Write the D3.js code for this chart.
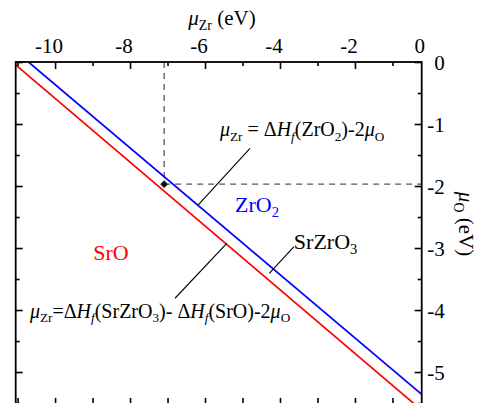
<!DOCTYPE html>
<html>
<head>
<meta charset="utf-8">
<script src="https://cdn.jsdelivr.net/npm/d3@7"></script>
<style>
  html, body { margin: 0; padding: 0; background: #fff; }
  svg, svg text { font-family: "Liberation Serif", "Times New Roman", serif; }
  svg { display: block; }
</style>
</head>
<body>
<svg id="chart" width="478" height="403"></svg>
<script>
// Axis ranges and ticks (eV)
const muZrDomain = [-11.05, -0.22];
const muODomain = [0, -5.53];
const muZrMajorTicks = [-10, -8, -6, -4, -2];
const muZrMinorTicks = [-11, -9, -7, -5, -3, -1];
const muZrEndLabel = [0];
const muOMajorTicks = [0, -1, -2, -3, -4, -5];
const muOMinorTicks = [-0.5, -1.5, -2.5, -3.5, -4.5, -5.5];

// Phase boundaries: [μZr, μO] end points
const zro2Boundary = [[-10.71, 0], [-0.22, -5.36]];
const sroBoundary = [[-11.05, -0.048], [-0.387, -5.53]];

// Marked point and its projections onto the axes
const markedPoint = [-7.09, -1.97];

// Leader lines from labels to boundaries: [[μZr, μO], [μZr, μO]]
const leaderZrO2 = [[-4.80, -1.392], [-6.18, -2.306]];
const leaderSrZrO3 = [[-3.627, -2.979], [-4.286, -3.408]];
const leaderSrO = [[-6.80, -3.81], [-5.42, -2.924]];

// Label anchors [μZr, μO]
const posSrO = [-8.51, -3.19];
const posZrO2 = [-5.20, -2.42];
const posSrZrO3 = [-3.63, -3.02];
const posFormulaZrO2 = [-5.60, -1.20];
const posFormulaSrO = [-10.67, -4.13];

const FONT = "'Liberation Serif', 'Times New Roman', serif";
const svg = d3.select("#chart");
const plotL = 15.7, plotR = 421.7, plotT = 62, plotB = 404.9;

const x = d3.scaleLinear().domain(muZrDomain).range([plotL, plotR]);
const y = d3.scaleLinear().domain(muODomain).range([plotT, plotB]);

const defs = svg.append("defs");
defs.append("clipPath").attr("id", "plotClip")
  .append("rect").attr("x", plotL).attr("y", plotT)
  .attr("width", plotR - plotL).attr("height", plotB - plotT);

const plot = svg.append("g").attr("clip-path", "url(#plotClip)");

// Dashed guides through the marked point
const dash = plot.append("g").attr("stroke", "#555").attr("stroke-width", 1.3)
  .attr("stroke-dasharray", "6,5").attr("fill", "none");
dash.append("line")
  .attr("x1", x(markedPoint[0])).attr("y1", y(0))
  .attr("x2", x(markedPoint[0])).attr("y2", y(markedPoint[1]));
dash.append("line")
  .attr("x1", x(markedPoint[0])).attr("y1", y(markedPoint[1]))
  .attr("x2", x(muZrDomain[1])).attr("y2", y(markedPoint[1]));

// Boundaries
const line = d3.line().x(d => x(d[0])).y(d => y(d[1]));
plot.append("path").datum(sroBoundary)
  .attr("d", line).attr("fill", "none").attr("stroke", "#ff0000").attr("stroke-width", 1.7);
plot.append("path").datum(zro2Boundary)
  .attr("d", line).attr("fill", "none").attr("stroke", "#0000ff").attr("stroke-width", 1.7);

// Leader lines
[leaderZrO2, leaderSrZrO3, leaderSrO].forEach(seg => {
  plot.append("path").datum(seg).attr("d", line)
    .attr("fill", "none").attr("stroke", "#000").attr("stroke-width", 1.1);
});

// Marked point
plot.append("path")
  .attr("d", d3.symbol().type(d3.symbolSquare).size(30)())
  .attr("transform", `translate(${x(markedPoint[0])},${y(markedPoint[1])}) rotate(45)`)
  .attr("fill", "#111");

// Frame
svg.append("rect").attr("x", plotL).attr("y", plotT)
  .attr("width", plotR - plotL).attr("height", plotB - plotT)
  .attr("fill", "none").attr("stroke", "#000").attr("stroke-width", 1.8);

function styleAxis(g) {
  g.attr("font-family", null).style("font-family", FONT);
  g.select(".domain").remove();
  g.selectAll(".tick line").attr("stroke", "#000").attr("stroke-width", 1.6);
  g.selectAll(".tick text").attr("font-size", 21).attr("fill", "#000")
    .style("font-family", FONT);
}

// Top axis (μZr), ticks point inward
const topMajor = svg.append("g").attr("transform", `translate(0,${plotT})`)
  .call(d3.axisTop(x).tickValues(muZrMajorTicks).tickSizeInner(-7).tickSizeOuter(0)
    .tickPadding(9).tickFormat(d => String(d).replace("−", "-")));
styleAxis(topMajor);
topMajor.selectAll(".tick text").attr("dx", -6.5);
svg.append("g").attr("transform", `translate(0,${plotT})`)
  .call(d3.axisTop(x).tickValues(muZrMinorTicks).tickSizeInner(-4).tickSizeOuter(0).tickFormat(""))
  .call(styleAxis);
// end label at the right edge of the range
svg.append("g").selectAll("text").data(muZrEndLabel).join("text")
  .attr("x", d => Math.min(x(d), plotR) - 2).attr("y", plotT - 9)
  .attr("text-anchor", "middle").attr("font-size", 21).style("font-family", FONT).text(d => d);

// Bottom axis: ticks only
svg.append("g").attr("transform", `translate(0,${plotB})`)
  .call(d3.axisBottom(x).tickValues(muZrMajorTicks.concat(muZrMinorTicks)).tickSizeInner(-7).tickSizeOuter(0).tickFormat(""))
  .call(styleAxis);

// Right axis (μO)
const rightMajor = svg.append("g").attr("transform", `translate(${plotR},0)`)
  .call(d3.axisRight(y).tickValues(muOMajorTicks).tickSizeInner(-7).tickSizeOuter(0)
    .tickPadding(23).tickFormat(d => String(d).replace("−", "-")));
styleAxis(rightMajor);
rightMajor.selectAll(".tick text").attr("text-anchor", "end").attr("dy", "0.34em");
svg.append("g").attr("transform", `translate(${plotR},0)`)
  .call(d3.axisRight(y).tickValues(muOMinorTicks).tickSizeInner(-4).tickSizeOuter(0).tickFormat(""))
  .call(styleAxis);

// Left axis: ticks only
svg.append("g").attr("transform", `translate(${plotL},0)`)
  .call(d3.axisLeft(y).tickValues(muOMajorTicks).tickSizeInner(-7).tickSizeOuter(0).tickFormat(""))
  .call(styleAxis);
svg.append("g").attr("transform", `translate(${plotL},0)`)
  .call(d3.axisLeft(y).tickValues(muOMinorTicks).tickSizeInner(-4).tickSizeOuter(0).tickFormat(""))
  .call(styleAxis);

// Rich text helper: parts = [text, style] with style in {"", "i", "sub", "isub"}
function rich(sel, parts, size) {
  sel.style("font-family", FONT);
  let lowered = 0;
  parts.forEach(([t, s]) => {
    const ts = sel.append("tspan").text(t);
    if (s === "i" || s === "isub") ts.attr("font-style", "italic");
    const isSub = (s === "sub" || s === "isub");
    if (isSub) {
      ts.attr("font-size", size * 0.66);
      const target = size * 0.22;
      ts.attr("dy", target - lowered);
      lowered = target;
    } else {
      ts.attr("dy", -lowered);
      lowered = 0;
    }
  });
  return sel;
}

// Axis titles
rich(svg.append("text").attr("x", 222).attr("y", 25).attr("text-anchor", "middle")
  .attr("font-size", 21),
  [["μ", "i"], ["Zr", "sub"], [" (eV)", ""]], 21);
rich(svg.append("text").attr("transform", "translate(459,224) rotate(90)")
  .attr("text-anchor", "middle").attr("font-size", 21),
  [["μ", "i"], ["O", "sub"], [" (eV)", ""]], 21);

// Region labels
svg.append("text").attr("x", x(posSrO[0])).attr("y", y(posSrO[1]))
  .attr("text-anchor", "middle").attr("font-size", 22).attr("fill", "#ff0000")
  .style("font-family", FONT).text("SrO");
rich(svg.append("text").attr("x", x(posZrO2[0])).attr("y", y(posZrO2[1]))
  .attr("font-size", 22).attr("fill", "#0000ff"),
  [["ZrO", ""], ["2", "sub"]], 22);
rich(svg.append("text").attr("x", x(posSrZrO3[0])).attr("y", y(posSrZrO3[1]))
  .attr("font-size", 22).attr("fill", "#000"),
  [["SrZrO", ""], ["3", "sub"]], 22);

// Boundary equations
rich(svg.append("text").attr("x", x(posFormulaZrO2[0])).attr("y", y(posFormulaZrO2[1]))
  .attr("font-size", 20),
  [["μ", "i"], ["Zr", "sub"], [" = Δ", ""], ["H", "i"], ["f", "isub"], ["(ZrO", ""], ["2", "sub"],
   [")-2", ""], ["μ", "i"], ["O", "sub"]], 20);
rich(svg.append("text").attr("x", x(posFormulaSrO[0])).attr("y", y(posFormulaSrO[1]))
  .attr("font-size", 20),
  [["μ", "i"], ["Zr", "sub"], ["=Δ", ""], ["H", "i"], ["f", "isub"], ["(SrZrO", ""], ["3", "sub"],
   [")- Δ", ""], ["H", "i"], ["f", "isub"], ["(SrO)-2", ""], ["μ", "i"], ["O", "sub"]], 20);
</script>
</body>
</html>
